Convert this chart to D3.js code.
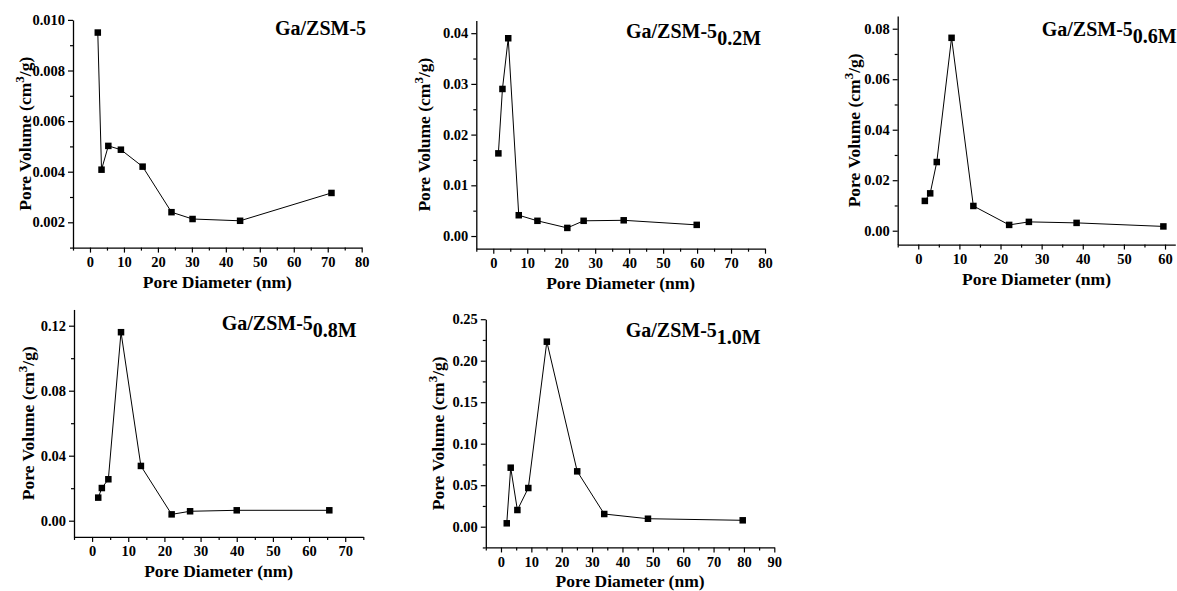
<!DOCTYPE html>
<html><head><meta charset="utf-8">
<script src="https://cdn.jsdelivr.net/npm/d3@7"></script>
<style>
body{margin:0;background:#fff;}
svg{display:block;font-family:"Liberation Serif","Times New Roman",serif;font-weight:bold;}
</style></head>
<body><svg id="c" width="1177" height="591"></svg>
<script>
// ---- data ----
const diam1 = [2.3, 3.4, 5.4, 9.1, 15.5, 24.0, 30.2, 44.2, 71.1];
const vol1  = [0.0095, 0.00408, 0.00502, 0.00487, 0.0042, 0.0024, 0.00213, 0.00206, 0.00316];
const diam2 = [1.5, 2.7, 4.4, 7.5, 13.0, 21.8, 26.6, 38.4, 59.9];
const vol2  = [0.0163, 0.029, 0.039, 0.0041, 0.0030, 0.0016, 0.0030, 0.0031, 0.0022];
const diam3 = [1.6, 2.9, 4.5, 8.1, 13.4, 22.1, 26.9, 38.5, 59.6];
const vol3  = [0.0118, 0.0148, 0.0272, 0.0764, 0.0098, 0.0023, 0.0035, 0.0031, 0.0017];
const diam4 = [1.7, 2.7, 4.5, 8.0, 13.5, 22.0, 27.1, 40.0, 65.6];
const vol4  = [0.0142, 0.0201, 0.0255, 0.116, 0.0337, 0.0039, 0.0058, 0.0064, 0.0064];
const diam5 = [1.9, 3.2, 5.4, 9.0, 15.1, 25.1, 34.0, 48.4, 79.6];
const vol5  = [0.0041, 0.0711, 0.0201, 0.0466, 0.2229, 0.0667, 0.0153, 0.0096, 0.0077];

const titles = ["Ga/ZSM-5", "Ga/ZSM-5", "Ga/ZSM-5", "Ga/ZSM-5", "Ga/ZSM-5"];
const subs   = ["", "0.2M", "0.6M", "0.8M", "1.0M"];

const xTicks1 = [0,10,20,30,40,50,60,70,80];
const xTicks2 = [0,10,20,30,40,50,60,70,80];
const xTicks3 = [0,10,20,30,40,50,60];
const xTicks4 = [0,10,20,30,40,50,60,70];
const xTicks5 = [0,10,20,30,40,50,60,70,80,90];
const yTicks1 = [0.002,0.004,0.006,0.008,0.010];
const yTicks2 = [0.00,0.01,0.02,0.03,0.04];
const yTicks3 = [0.00,0.02,0.04,0.06,0.08];
const yTicks4 = [0.00,0.04,0.08,0.12];
const yTicks5 = [0.00,0.05,0.10,0.15,0.20,0.25];
const yDigits = [3,2,2,2,2];

const xLabel = "Pore Diameter (nm)";

// ---- layout (positions only) ----
const layout = [
  {xr:[73,361.7],   xd:[-5,80],   yr:[247.6,19.9],  yd:[0.001,0.010],    tp:[275,35],     yl:31},
  {xr:[476.3,765],  xd:[-5,80],   yr:[248.7,20.5],  yd:[-0.0025,0.0425], tp:[626,38.3],   yl:430},
  {xr:[897.7,1175.3],xd:[-5,62.5],yr:[244.6,16.1],  yd:[-0.0055,0.085],  tp:[1041.7,36],  yl:860},
  {xr:[74,363.3],   xd:[-5,75],   yr:[536.95,309.45],yd:[-0.01,0.13],    tp:[221.7,330],  yl:34},
  {xr:[485.8,774.3],xd:[-5,90],   yr:[547.45,319.2],yd:[-0.025,0.25],    tp:[625.7,337.3],yl:444}
];
const panels = [
  {d:diam1,v:vol1,xt:xTicks1,yt:yTicks1},
  {d:diam2,v:vol2,xt:xTicks2,yt:yTicks2},
  {d:diam3,v:vol3,xt:xTicks3,yt:yTicks3},
  {d:diam4,v:vol4,xt:xTicks4,yt:yTicks4},
  {d:diam5,v:vol5,xt:xTicks5,yt:yTicks5}
];

const svg = d3.select("#c");

panels.forEach((p,i)=>{
  const L = layout[i];
  const x = d3.scaleLinear().domain(L.xd).range(L.xr);
  const y = d3.scaleLinear().domain(L.yd).range(L.yr);
  const g = svg.append("g");
  const x0 = L.xr[0], yb = L.yr[0];

  // minor ticks
  const xStep = p.xt[1]-p.xt[0];
  const xMinor = d3.range(L.xd[0], L.xd[1]+1e-9, xStep/2).filter(v=>!p.xt.some(t=>Math.abs(t-v)<1e-9));
  const yStep = p.yt[1]-p.yt[0];
  const yMinor = [];
  for (let v = p.yt[0]-yStep*2; v <= L.yd[1]+1e-12; v += yStep/2) {
    if (v >= L.yd[0]-1e-12 && !p.yt.some(t=>Math.abs(t-v)<1e-9)) yMinor.push(v);
  }

  const xa = g.append("g").attr("transform",`translate(0,${yb})`)
    .call(d3.axisBottom(x).tickValues(p.xt).tickSize(5).tickPadding(4).tickFormat(d3.format("d")).tickSizeOuter(0));
  g.append("g").attr("transform",`translate(0,${yb})`)
    .call(d3.axisBottom(x).tickValues(xMinor).tickSize(3).tickFormat("").tickSizeOuter(0))
    .select(".domain").remove();
  const ya = g.append("g").attr("transform",`translate(${x0},0)`)
    .call(d3.axisLeft(y).tickValues(p.yt).tickSize(5).tickPadding(3).tickFormat(d3.format("."+yDigits[i]+"f")).tickSizeOuter(0));
  g.append("g").attr("transform",`translate(${x0},0)`)
    .call(d3.axisLeft(y).tickValues(yMinor).tickSize(3).tickFormat("").tickSizeOuter(0))
    .select(".domain").remove();

  g.selectAll(".domain").attr("stroke","#000").attr("stroke-width",1.3);
  g.selectAll(".tick line").attr("stroke","#000").attr("stroke-width",1.2);
  g.selectAll(".tick text").attr("fill","#000")
    .style("font-family",'"Liberation Serif","Times New Roman",serif')
    .style("font-weight","bold").style("font-size","14.5px");

  // line + markers
  const pts = p.d.map((dv,k)=>[dv,p.v[k]]);
  g.append("path").datum(pts)
    .attr("fill","none").attr("stroke","#000").attr("stroke-width",1)
    .attr("d", d3.line().x(d=>x(d[0])).y(d=>y(d[1])));
  const s = 6.5;
  g.selectAll("rect.m").data(pts).enter().append("rect")
    .attr("x",d=>x(d[0])-s/2).attr("y",d=>y(d[1])-s/2)
    .attr("width",s).attr("height",s).attr("fill","#000");

  // axis titles
  g.append("text").attr("x",(L.xr[0]+L.xr[1])/2).attr("y",yb+40)
    .attr("text-anchor","middle").style("font-size","17.5px").text(xLabel);
  const yt = g.append("text")
    .attr("transform",`translate(${L.yl},${(L.yr[0]+L.yr[1])/2}) rotate(-90)`)
    .attr("text-anchor","middle").style("font-size","17.5px");
  yt.append("tspan").text("Pore Volume (cm");
  yt.append("tspan").attr("dy",-7).style("font-size","13px").text("3");
  yt.append("tspan").attr("dy",7).text("/g)");

  // panel title
  const tt = g.append("text").attr("x",L.tp[0]).attr("y",L.tp[1]).style("font-size","20px");
  tt.append("tspan").text(titles[i]);
  if (subs[i]) tt.append("tspan").attr("dy",7).text(subs[i]);
});
</script>
</body></html>
